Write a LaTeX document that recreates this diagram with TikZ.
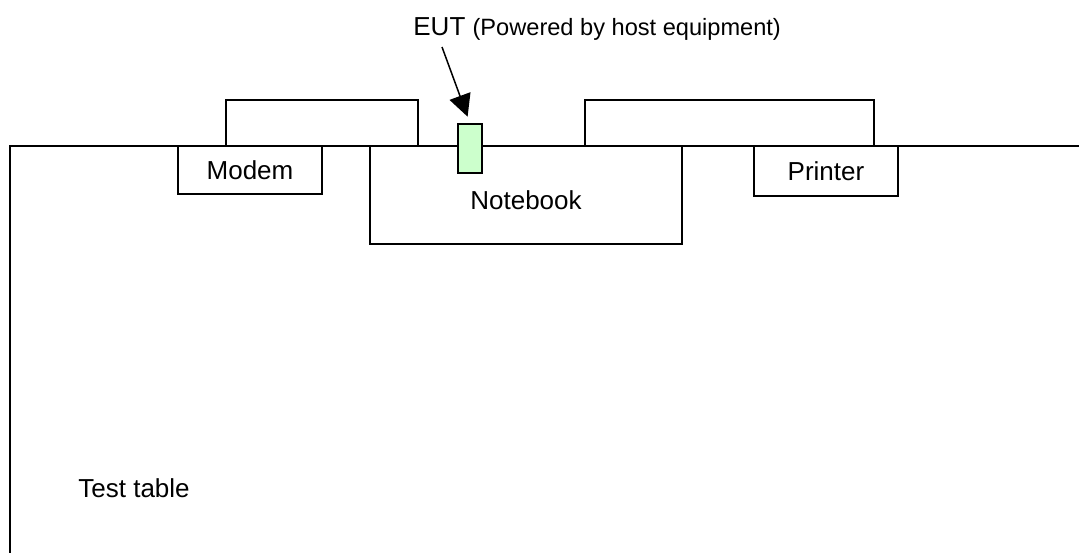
\documentclass[tikz,border=0pt]{standalone}
\usepackage{fontspec}
\setmainfont{Liberation Sans}
\usetikzlibrary{arrows.meta}
\tikzset{
  unit/.style={draw,line width=0.75pt,fill=white,inner sep=0pt,font=\fontsize{13}{15}\selectfont},
  cable/.style={draw,line width=0.75pt},
  eutbox/.style={draw,line width=0.75pt,fill=green!20,inner sep=0pt,minimum width=12pt,minimum height=24.5pt}
}
\begin{document}
\begin{tikzpicture}[x=0.5pt,y=-0.5pt]
\useasboundingbox (0,0) rectangle (1079,553);
% test table
\draw[line width=1.3pt] (1079,146) -| (10,553);
\node[anchor=west,inner sep=0pt,font=\fontsize{13}{15}\selectfont] (table) at (78,488) {Test table};
% cables
\coordinate (mc1) at (226,146);
\coordinate (mc2) at (418,146);
\coordinate (pc1) at (585,146);
\coordinate (pc2) at (874,146);
\draw[cable] (mc1) -- ++(0,-46) -| (mc2);
\draw[cable] (pc1) -- ++(0,-46) -| (pc2);
% units
\node[unit,minimum width=72pt,minimum height=24pt] (modem) at (250,170) {Modem};
\node[unit,minimum width=156pt,minimum height=49pt,text height=14.3pt] (notebook) at (526,195) {Notebook};
\node[unit,minimum width=72pt,minimum height=25pt] (printer) at (826,171) {Printer};
\node[eutbox] (eut) at (470,148.5) {};
% label
\node[anchor=base west,inner sep=0pt] (eutlabel) at (413,35)
  {\fontsize{13}{15}\selectfont EUT \fontsize{11.8}{14}\selectfont(Powered by host equipment)};
\coordinate (tail) at (442,47);
\draw[line width=0.75pt,-{Triangle[width=11pt,length=11pt]},shorten >=3.5pt] (tail) -- (eut.north);
\end{tikzpicture}
\end{document}
